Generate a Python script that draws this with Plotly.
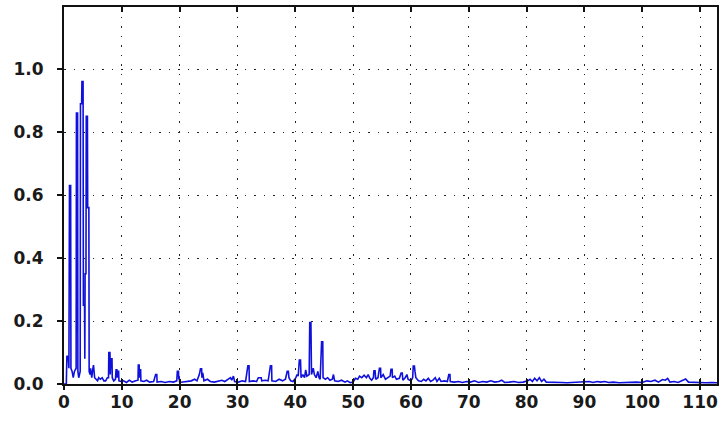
import plotly.graph_objects as go

# Amplitude spectrum: frequency (x) and normalised amplitude (y)
freq = [
    0.0, 0.4, 0.5, 0.75, 0.85, 0.95, 1.15, 1.2, 1.4, 1.6, 1.8, 2.1, 2.15, 2.35, 2.4,
    2.55, 2.8, 2.85, 3.05, 3.1, 3.3, 3.35, 3.55, 3.6, 3.65, 3.8, 3.85, 4.05, 4.1,
    4.3, 4.35, 4.5, 4.6, 4.8, 5.0, 5.1, 5.3, 5.5, 5.8, 6.0, 6.3, 6.6, 6.9, 7.2,
    7.5, 7.7, 7.75, 7.95, 8.0, 8.1, 8.3, 8.35, 8.6, 8.9, 9.0, 9.15, 9.2, 9.3,
    9.45, 9.5, 9.9, 10.3, 10.8, 11.3, 11.8, 12.4, 12.8, 12.85, 13.0, 13.05, 13.1,
    13.25, 13.3, 13.8, 14.3, 14.8, 15.5, 15.85, 16.05, 16.1, 16.8, 17.5, 18.2,
    18.9, 19.5, 19.6, 19.8, 19.85, 19.9, 20.0, 20.6, 21.3, 22.0, 22.6, 23.0, 23.4,
    23.6, 23.8, 23.85, 24.0, 24.2, 24.8, 25.3, 26.0, 26.7, 27.3, 27.8, 28.4, 28.8,
    29.0, 29.3, 29.5, 30.2, 30.8, 31.4, 31.8, 32.0, 32.05, 32.7, 33.3, 33.6, 34.1,
    34.2, 34.8, 35.3, 35.7, 35.9, 35.95, 36.6, 37.2, 37.8, 38.3, 38.6, 38.8, 38.9,
    39.2, 39.6, 40.1, 40.3, 40.5, 40.7, 40.9, 41.0, 41.3, 41.6, 41.8, 42.0, 42.4,
    42.5, 42.7, 42.8, 43.1, 43.3, 43.6, 43.9, 44.1, 44.3, 44.55, 44.75, 44.8, 45.2,
    45.6, 46.0, 46.4, 46.6, 46.8, 47.4, 48.0, 48.6, 49.0, 49.5, 50.0, 50.4, 50.8,
    51.1, 51.5, 51.9, 52.3, 52.6, 52.9, 53.2, 53.5, 53.6, 53.8, 53.9, 54.3, 54.55,
    54.75, 54.8, 55.2, 55.6, 56.0, 56.4, 56.55, 56.75, 56.8, 57.2, 57.5, 58.0, 58.3,
    58.5, 58.6, 59.0, 59.3, 59.5, 60.0, 60.3, 60.4, 60.6, 60.7, 60.85, 61.3, 61.8,
    62.2, 62.6, 63.0, 63.4, 63.8, 64.2, 64.5, 64.9, 65.2, 65.8, 66.3, 66.55, 66.75,
    66.8, 67.5, 68.2, 68.9, 69.6, 70.3, 71.0, 71.7, 72.4, 73.1, 73.8, 74.5, 75.2,
    75.7, 76.2, 77.0, 77.8, 78.6, 79.4, 80.2, 80.6, 81.0, 81.4, 81.8, 82.2, 82.6,
    83.0, 83.4, 84.2, 85.0, 86.0, 87.0, 88.0, 89.0, 90.0, 90.8, 91.5, 92.2, 92.8,
    93.5, 94.2, 95.0, 96.0, 97.0, 98.0, 99.0, 100.0, 100.8, 101.5, 102.2, 102.8,
    103.5, 104.0, 104.4, 104.8, 105.5, 106.2, 107.0, 107.5, 108.0, 109.0, 110.0,
    111.0, 112.0, 113.0,
]
amplitude = [
    0.0, 0.0, 0.09, 0.08, 0.05, 0.63, 0.63, 0.05, 0.04, 0.02, 0.04, 0.05, 0.86, 0.86, 0.04,
    0.02, 0.04, 0.89, 0.89, 0.96, 0.96, 0.25, 0.25, 0.08, 0.35, 0.35, 0.85, 0.85, 0.56,
    0.56, 0.04, 0.03, 0.05, 0.02, 0.05, 0.06, 0.02, 0.015, 0.01, 0.02, 0.015, 0.02, 0.01, 0.01,
    0.02, 0.02, 0.10, 0.10, 0.03, 0.08, 0.08, 0.02, 0.01, 0.015, 0.045, 0.045, 0.02, 0.04,
    0.04, 0.01, 0.008, 0.01, 0.005, 0.012, 0.006, 0.01, 0.012, 0.06, 0.06, 0.02, 0.045,
    0.045, 0.01, 0.008, 0.012, 0.006, 0.008, 0.03, 0.03, 0.006, 0.008, 0.005, 0.008,
    0.006, 0.01, 0.04, 0.04, 0.015, 0.025, 0.005, 0.006, 0.008, 0.01, 0.015, 0.01, 0.03,
    0.048, 0.048, 0.02, 0.035, 0.01, 0.015, 0.008, 0.006, 0.01, 0.012, 0.008, 0.015, 0.02,
    0.012, 0.025, 0.008, 0.006, 0.01, 0.008, 0.058, 0.058, 0.008, 0.01, 0.008, 0.02, 0.02,
    0.01, 0.012, 0.01, 0.058, 0.058, 0.01, 0.008, 0.015, 0.01, 0.015, 0.04, 0.04, 0.02,
    0.01, 0.008, 0.02, 0.03, 0.025, 0.076, 0.076, 0.02, 0.03, 0.02, 0.045, 0.025, 0.03,
    0.195, 0.195, 0.03, 0.05, 0.03, 0.02, 0.04, 0.02, 0.015, 0.134, 0.134, 0.02, 0.015,
    0.02, 0.012, 0.015, 0.03, 0.01, 0.008, 0.012, 0.006, 0.01, 0.004, 0.006, 0.018, 0.015,
    0.025, 0.02, 0.028, 0.02, 0.03, 0.018, 0.012, 0.02, 0.042, 0.042, 0.015, 0.02, 0.05,
    0.05, 0.02, 0.03, 0.015, 0.02, 0.025, 0.047, 0.047, 0.02, 0.025, 0.015, 0.018, 0.035,
    0.035, 0.012, 0.02, 0.03, 0.015, 0.01, 0.02, 0.057, 0.057, 0.04, 0.02, 0.01, 0.008,
    0.015, 0.01, 0.018, 0.008, 0.012, 0.02, 0.008, 0.018, 0.008, 0.01, 0.008, 0.03, 0.03,
    0.008, 0.006, 0.008, 0.005, 0.008, 0.006, 0.01, 0.005, 0.008, 0.006, 0.01, 0.006, 0.008,
    0.012, 0.005, 0.006, 0.008, 0.005, 0.006, 0.01, 0.015, 0.008, 0.018, 0.01, 0.02, 0.008,
    0.015, 0.006, 0.005, 0.004, 0.005, 0.004, 0.005, 0.004, 0.005, 0.008, 0.005, 0.008, 0.006,
    0.008, 0.005, 0.006, 0.004, 0.005, 0.004, 0.006, 0.005, 0.01, 0.008, 0.012, 0.006,
    0.014, 0.012, 0.018, 0.006, 0.008, 0.005, 0.012, 0.016, 0.006, 0.005, 0.006,
    0.004, 0.005, 0.004,
]

x_ticks = [0, 10, 20, 30, 40, 50, 60, 70, 80, 90, 100, 110]
y_ticks = [0.0, 0.2, 0.4, 0.6, 0.8, 1.0]
y_tick_text = ["0.0", "0.2", "0.4", "0.6", "0.8", "1.0"]

x_range = [0, 112.93]
y_range = [0, 1.197]

label_font = dict(family="DejaVu Sans", size=17, color="#1a1a1a", weight="bold")

fig = go.Figure()
fig.add_trace(go.Scatter(
    x=freq, y=amplitude, mode="lines",
    line=dict(color="#1010dc", width=1.6),
    hoverinfo="skip", showlegend=False,
))
# companion trace on the overlay axis that carries the downward tick marks
fig.add_trace(go.Scatter(
    x=[x_range[0]], y=[0], xaxis="x2", mode="markers",
    marker=dict(opacity=0), hoverinfo="skip", showlegend=False,
))

fig.update_layout(
    width=719, height=423,
    margin=dict(l=64, r=0, t=7, b=39),
    paper_bgcolor="white", plot_bgcolor="white",
    xaxis=dict(
        range=x_range, tickvals=x_ticks, ticks="inside", ticklen=5,
        tickwidth=1.5, tickcolor="#111", mirror="ticks",
        showline=True, linecolor="#111", linewidth=2,
        showgrid=True, gridcolor="#222", gridwidth=1.3, griddash="1.5px,8px",
        zeroline=False, tickfont=label_font, ticklabelstandoff=2,
    ),
    xaxis2=dict(
        range=x_range, overlaying="x", side="bottom", anchor="y",
        tickvals=x_ticks, ticks="outside", ticklen=5, tickwidth=1.5,
        tickcolor="#111", showticklabels=False, showgrid=False,
        showline=False, zeroline=False,
    ),
    yaxis=dict(
        range=y_range, tickvals=y_ticks, ticktext=y_tick_text,
        ticks="outside", ticklen=5, tickwidth=1.5, tickcolor="#111",
        showline=True, linecolor="#111", linewidth=2, mirror=True,
        showgrid=True, gridcolor="#222", gridwidth=1.3, griddash="1.5px,8px",
        zeroline=False, tickfont=label_font, ticklabelstandoff=10,
    ),
)

fig.write_html("out.html")
